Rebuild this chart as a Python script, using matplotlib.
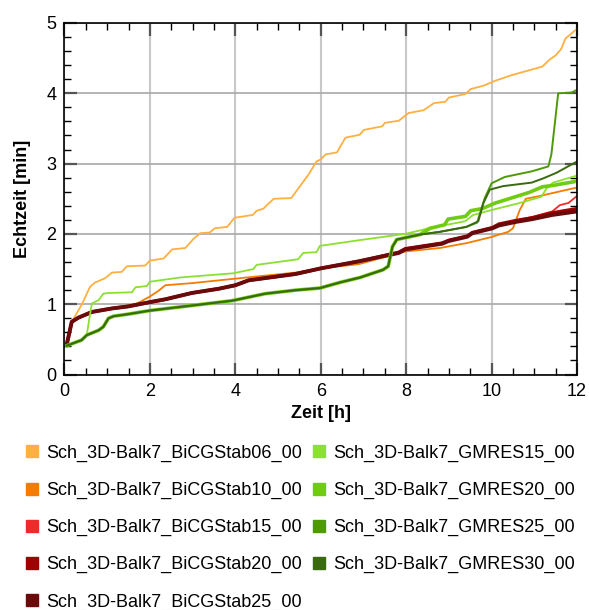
import matplotlib
matplotlib.use("Agg")
import matplotlib.pyplot as plt
from matplotlib.lines import Line2D
from matplotlib.ticker import MultipleLocator

plt.rcParams['font.family'] = ['Liberation Sans', 'DejaVu Sans']

labels = ["Sch_3D-Balk7_BiCGStab06_00", "Sch_3D-Balk7_BiCGStab10_00",
          "Sch_3D-Balk7_BiCGStab15_00", "Sch_3D-Balk7_BiCGStab20_00",
          "Sch_3D-Balk7_BiCGStab25_00", "Sch_3D-Balk7_GMRES15_00",
          "Sch_3D-Balk7_GMRES20_00", "Sch_3D-Balk7_GMRES25_00",
          "Sch_3D-Balk7_GMRES30_00"]
colors = ["#FFB040", "#F57C00", "#EE2A2A", "#A00000", "#6B0A0A",
          "#8CE030", "#70CC10", "#4E9A06", "#3A6A10"]
widths = [1.3, 1.3, 1.3, 2.4, 2.8, 1.3, 2.6, 1.4, 1.4]

t_b06 = [0.05,0.17,0.4,0.6,0.72,0.95,1.11,1.34,1.46,1.89,2.0,2.32,2.52,2.83,3.02,3.18,3.4,3.52,3.81,3.98,4.41,4.5,4.66,4.74,4.9,5.31,5.72,5.9,6.0,6.11,6.38,6.58,6.91,7.01,7.44,7.5,7.83,7.95,8.06,8.41,8.65,8.92,9.0,9.39,9.51,9.82,10.09,10.48,11.19,11.34,11.5,11.63,11.73,11.85,12.0]
y_b06 = [0.42,0.75,0.99,1.25,1.31,1.37,1.45,1.46,1.54,1.55,1.62,1.65,1.78,1.80,1.93,2.01,2.02,2.08,2.10,2.23,2.27,2.33,2.36,2.41,2.50,2.51,2.85,3.03,3.06,3.13,3.16,3.37,3.41,3.48,3.53,3.58,3.61,3.67,3.72,3.76,3.86,3.88,3.94,3.99,4.06,4.11,4.18,4.26,4.38,4.47,4.54,4.63,4.78,4.84,4.92]

t_b10 = [0.05,0.17,0.33,0.64,1.11,1.5,1.73,2.0,2.2,2.36,2.98,4.26,5.41,6.0,6.89,7.98,8.79,9.42,9.96,10.39,10.5,10.66,10.8,11.13,12.0]
y_b10 = [0.42,0.75,0.81,0.89,0.94,0.97,1.02,1.11,1.19,1.27,1.30,1.38,1.45,1.51,1.57,1.75,1.80,1.87,1.95,2.03,2.08,2.34,2.50,2.54,2.66]

t_b15 = [0.05,0.17,0.33,0.64,1.11,1.5,2.0,2.36,2.98,3.61,4.0,4.31,5.41,6.0,6.89,7.83,7.98,8.84,9.0,9.43,9.55,10.02,10.17,10.56,10.95,11.42,11.6,11.8,12.0]
y_b15 = [0.42,0.75,0.81,0.89,0.94,0.97,1.03,1.07,1.16,1.22,1.27,1.34,1.43,1.51,1.61,1.73,1.78,1.86,1.90,1.96,2.01,2.08,2.13,2.19,2.24,2.32,2.41,2.44,2.54]

t_b20 = [0.05,0.17,0.33,0.64,1.11,1.5,2.0,2.36,2.98,3.61,4.0,4.31,5.41,6.0,6.89,7.83,7.98,8.84,9.0,9.43,9.55,10.02,10.17,10.56,10.95,11.42,12.0]
y_b20 = [0.42,0.75,0.81,0.89,0.94,0.97,1.03,1.07,1.16,1.22,1.27,1.34,1.43,1.51,1.61,1.74,1.79,1.87,1.91,1.97,2.02,2.09,2.14,2.19,2.23,2.30,2.36]

t_b25 = [0.05,0.17,0.33,0.64,1.11,1.5,2.0,2.36,2.98,3.61,4.0,4.31,5.41,6.0,6.89,7.83,7.98,8.84,9.0,9.43,9.55,10.02,10.17,10.56,10.95,11.42,12.0]
y_b25 = [0.42,0.75,0.81,0.89,0.94,0.97,1.03,1.07,1.16,1.22,1.27,1.34,1.43,1.51,1.61,1.73,1.78,1.86,1.90,1.96,2.01,2.08,2.12,2.17,2.21,2.27,2.32]

t_g15 = [0.05,0.4,0.52,0.64,0.8,0.91,1.03,1.58,1.66,1.93,2.0,2.7,3.95,4.42,4.5,5.47,5.59,5.9,5.98,6.89,7.97,8.4,8.56,8.95,9.38,9.57,10.0,10.66,11.17,11.29,11.44,12.0]
y_g15 = [0.41,0.49,0.56,1.01,1.06,1.15,1.16,1.17,1.24,1.26,1.32,1.38,1.44,1.50,1.56,1.64,1.73,1.74,1.83,1.91,2.0,2.06,2.09,2.13,2.18,2.27,2.34,2.44,2.53,2.65,2.73,2.83]

t_g20 = [0.05,0.4,0.52,0.8,0.91,1.03,1.15,1.5,2.0,3.92,4.7,5.41,5.98,6.45,6.92,7.46,7.58,7.68,7.78,8.01,8.32,8.56,8.9,8.98,9.39,9.51,9.78,10.09,10.88,11.19,11.44,12.0]
y_g20 = [0.41,0.49,0.56,0.63,0.68,0.80,0.83,0.86,0.91,1.05,1.15,1.20,1.23,1.31,1.38,1.49,1.54,1.82,1.92,1.95,1.99,2.08,2.13,2.21,2.25,2.33,2.36,2.44,2.59,2.67,2.69,2.75]

t_g25 = [0.05,0.4,0.52,0.8,0.91,1.03,1.15,1.5,2.0,3.92,4.7,5.41,5.98,6.45,6.92,7.46,7.58,7.68,7.78,8.01,8.32,8.79,9.41,9.66,9.84,10.0,10.31,10.94,11.33,11.4,11.56,11.87,12.0]
y_g25 = [0.41,0.49,0.56,0.63,0.68,0.80,0.83,0.86,0.91,1.05,1.15,1.20,1.23,1.31,1.38,1.49,1.54,1.82,1.92,1.95,1.99,2.03,2.10,2.16,2.51,2.72,2.81,2.89,2.96,3.13,4.0,4.01,4.05]

t_g30 = [0.05,0.4,0.52,0.8,0.91,1.03,1.15,1.5,2.0,3.92,4.7,5.41,5.98,6.45,6.92,7.46,7.58,7.68,7.78,8.01,8.32,8.79,9.41,9.69,9.81,9.96,10.27,10.94,11.21,11.52,12.0]
y_g30 = [0.41,0.49,0.56,0.63,0.68,0.80,0.83,0.86,0.91,1.05,1.15,1.20,1.23,1.31,1.38,1.49,1.54,1.82,1.92,1.95,1.99,2.03,2.10,2.18,2.44,2.63,2.68,2.73,2.79,2.87,3.03]

series = [(t_b06, y_b06), (t_b10, y_b10), (t_b15, y_b15), (t_b20, y_b20),
          (t_b25, y_b25), (t_g15, y_g15), (t_g20, y_g20), (t_g25, y_g25),
          (t_g30, y_g30)]

fig = plt.figure(figsize=(5.89, 6.10), dpi=100)
ax = fig.add_axes([0.1095, 0.386, 0.8701, 0.5763])

for (t, y), c, lw in zip(series, colors, widths):
    ax.plot(t, y, color=c, lw=lw, solid_joinstyle='round')

ax.set_xlim(0, 12)
ax.set_ylim(0, 5)
ax.xaxis.set_major_locator(MultipleLocator(2))
ax.xaxis.set_minor_locator(MultipleLocator(0.5))
ax.yaxis.set_major_locator(MultipleLocator(1))
ax.yaxis.set_minor_locator(MultipleLocator(0.2))
ax.grid(True, which='major', axis='x', color='#c8c8c8', lw=1.5)
ax.grid(True, which='major', axis='y', color='#a8a8a8', lw=1.2)
ax.set_axisbelow(True)
ax.tick_params(which='both', direction='in', top=True, right=True, labelsize=13)
ax.tick_params(which='major', length=9, width=1.6, color='#555555', pad=6)
ax.tick_params(which='minor', length=5, width=1.0, color='black')
for s in ax.spines.values():
    s.set_linewidth(1.2)

ax.set_xlabel("Zeit [h]", fontsize=13, fontweight='bold', labelpad=4)
ax.set_ylabel("Echtzeit [min]", fontsize=13, fontweight='bold', labelpad=11)

handles = [Line2D([], [], ls='none', marker='s', ms=9, mfc=c, mec=c) for c in colors]
fig.legend(handles, labels, ncol=2, loc='upper left', bbox_to_anchor=(0.029, 0.283),
           frameon=False, fontsize=13, handlelength=0.8, handletextpad=0.4,
           labelspacing=1.11, columnspacing=0.55, borderaxespad=0)

fig.savefig("out.png", dpi=100)
